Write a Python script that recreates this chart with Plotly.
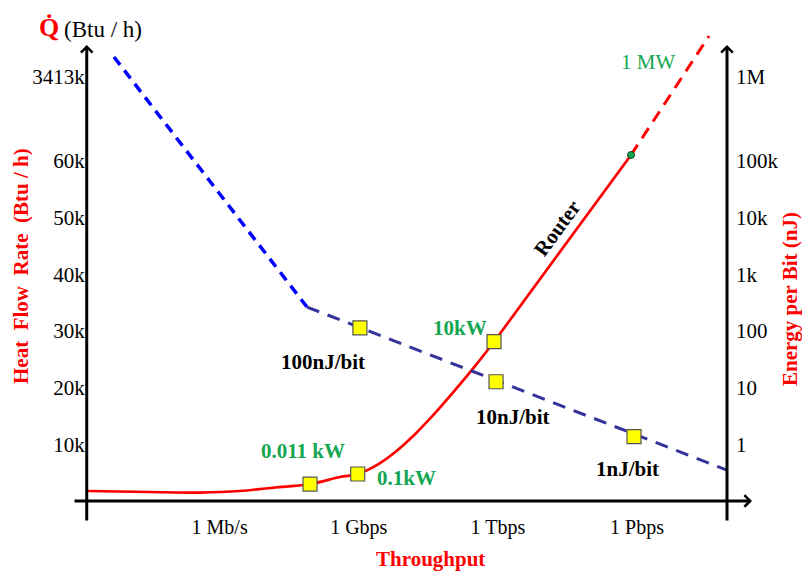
import math
import plotly.graph_objects as go

# ---------------- data ----------------
x_tick_bps = [1e6, 1e9, 1e12, 1e15]
x_tick_text = ["1 Mb/s", "1 Gbps", "1 Tbps", "1 Pbps"]

heat_tick_k = [10, 20, 30, 40, 50, 60, 74.85]          # last one sits above the axis break
heat_tick_text = ["10k", "20k", "30k", "40k", "50k", "60k", "3413k"]

energy_tick_nj = [1, 10, 100, 1e3, 1e4, 1e5, 3.05e6]   # last one sits above the axis break
energy_tick_text = ["1", "10", "100", "1k", "10k", "100k", "1M"]

# Router heat flow (k Btu/h) vs throughput (bps)
router_bps = [1.38e3, 3.16e4, 3.78e5, 2.75e6, 1.22e7, 8.9e7, 3.94e8, 9.5e8,
              2.24e9, 6.05e9, 1.63e10, 4.41e10, 1.19e11, 3.21e11, 8.26e11]
router_kbtu = [1.75, 1.57, 1.48, 1.75, 2.28, 2.98, 4.22, 4.75,
               6.13, 8.60, 11.78, 15.49, 19.55, 23.79, 28.11]
router_lin_bps = [8.26e11, 7.43e14]
router_lin_kbtu = [28.11, 61.09]
router_ext_bps = [7.43e14, 3.56e16]
router_ext_kbtu = [61.09, 82.09]

power_pts_bps = [8.9e7, 9.5e8, 8.26e11]
power_pts_kbtu = [2.98, 4.75, 28.11]
power_labels = ["0.011 kW", "0.1kW", "10kW"]

mw_bps = [7.43e14]
mw_kbtu = [61.09]

# Energy per bit (nJ) vs throughput (bps)
epb_hi_bps = [5.28e3, 7.67e7]
epb_hi_nj = [6.9e6, 265]
epb_bps = [7.67e7, 8.71e16]
epb_nj = [265, 0.35]
epb_pts_bps = [1.06e9, 9.12e11, 8.61e14]
epb_pts_nj = [114, 12.7, 1.36]
epb_labels = ["100nJ/bit", "10nJ/bit", "1nJ/bit"]

# ---------------- layout geometry ----------------
W, H = 802, 573
X_RANGE = [2.839, 17.479]          # log10(bps)
X_DOMAIN = [73 / W, 752 / W]
Y_RANGE = [-12.73, 88.45]          # k Btu/h
Y2_RANGE = [-2.273, 7.845]         # log10(nJ)
AX_LEFT = 3.135                    # log10(bps) of left axis
AX_RIGHT = 16.94                   # log10(bps) of right axis
AX_BOTTOM = -3.726
AX_TOP = 80.5
LEFT_BREAK = 70.26
RIGHT_BREAK = 69.47

SERIF = "Liberation Serif, Times New Roman, serif"
RED = "#ff0000"
GREEN = "#14a651"
NAVY = "#333399"
BLUE = "#0000ff"

fig = go.Figure()

fig.add_trace(go.Scatter(x=epb_hi_bps, y=epb_hi_nj, yaxis="y2", mode="lines",
                         line=dict(color=BLUE, width=3.5, dash="10px,7px"), showlegend=False))
fig.add_trace(go.Scatter(x=epb_bps, y=epb_nj, yaxis="y2", mode="lines",
                         line=dict(color=NAVY, width=3, dash="13px,9px"), showlegend=False))
fig.add_trace(go.Scatter(x=router_bps, y=router_kbtu, mode="lines",
                         line=dict(color=RED, width=2.7, shape="spline", smoothing=1.0),
                         showlegend=False))
fig.add_trace(go.Scatter(x=router_lin_bps, y=router_lin_kbtu, mode="lines",
                         line=dict(color=RED, width=2.7), showlegend=False))
fig.add_trace(go.Scatter(x=router_ext_bps, y=router_ext_kbtu, mode="lines",
                         line=dict(color=RED, width=3, dash="12px,8px"), showlegend=False))
fig.add_trace(go.Scatter(x=mw_bps, y=mw_kbtu, mode="markers",
                         marker=dict(color=GREEN, size=7, line=dict(color="#114422", width=1)),
                         showlegend=False))
fig.add_trace(go.Scatter(x=power_pts_bps, y=power_pts_kbtu, mode="markers",
                         marker=dict(symbol="square", color="#ffff00", size=14,
                                     line=dict(color="#555555", width=1.2)),
                         showlegend=False))
fig.add_trace(go.Scatter(x=epb_pts_bps, y=epb_pts_nj, yaxis="y2", mode="markers",
                         marker=dict(symbol="square", color="#ffff00", size=14,
                                     line=dict(color="#555555", width=1.2)),
                         showlegend=False))

shapes = []
# tick stubs crossing the axes
for v in heat_tick_k:
    shapes.append(dict(type="line", xref="x", yref="y", xsizemode="pixel", xanchor=AX_LEFT,
                       x0=-7, x1=7, y0=v, y1=v, line=dict(color="black", width=3)))
for v in energy_tick_nj:
    lv = math.log10(v)
    shapes.append(dict(type="line", xref="x", yref="y2", xsizemode="pixel", xanchor=AX_RIGHT,
                       x0=-7, x1=7, y0=lv, y1=lv, line=dict(color="black", width=3)))
for b in x_tick_bps:
    lb = math.log10(b)
    shapes.append(dict(type="line", xref="x", yref="y", ysizemode="pixel", yanchor=0,
                       x0=lb, x1=lb, y0=-7, y1=6, line=dict(color="black", width=3)))
# axis break marks
for anchor_x, anchor_y in [(AX_LEFT, LEFT_BREAK), (AX_RIGHT, RIGHT_BREAK)]:
    for off in (-3, 3):
        shapes.append(dict(type="line", xref="x", yref="y", xsizemode="pixel", ysizemode="pixel",
                           xanchor=anchor_x, yanchor=anchor_y,
                           x0=-7, x1=7, y0=off - 10, y1=off + 10,
                           line=dict(color="#333333", width=1)))

annotations = []
# axis lines with arrow heads
arrow_common = dict(text="", showarrow=True, arrowhead=4, arrowsize=0.75, arrowwidth=3,
                    arrowcolor="black", xref="x", yref="y", axref="x", ayref="y", standoff=0)
annotations.append(dict(x=AX_LEFT, y=AX_TOP, ax=AX_LEFT, ay=AX_BOTTOM, **arrow_common))
annotations.append(dict(x=AX_RIGHT, y=AX_TOP, ax=AX_RIGHT, ay=AX_BOTTOM, **arrow_common))
annotations.append(dict(x=X_RANGE[1], y=0, ax=X_RANGE[0], ay=0, **arrow_common))

# point labels
p_shift = [(-7, 33), (49, -4), (-34, 14)]
for b, v, t, (dx, dy) in zip(power_pts_bps, power_pts_kbtu, power_labels, p_shift):
    annotations.append(dict(x=math.log10(b), y=v, xref="x", yref="y", text=t, showarrow=False,
                            xshift=dx, yshift=dy, xanchor="center", yanchor="middle",
                            font=dict(family=SERIF, size=21, color=GREEN, weight="bold")))
e_shift = [(-37, -34), (17, -35), (-7, -32)]
for b, v, t, (dx, dy) in zip(epb_pts_bps, epb_pts_nj, epb_labels, e_shift):
    annotations.append(dict(x=math.log10(b), y=math.log10(v), xref="x", yref="y2", text=t,
                            showarrow=False, xshift=dx, yshift=dy, xanchor="center",
                            yanchor="middle",
                            font=dict(family=SERIF, size=21, color="black", weight="bold")))
annotations.append(dict(x=math.log10(mw_bps[0]), y=mw_kbtu[0], xref="x", yref="y", text="1 MW",
                        showarrow=False, xshift=17, yshift=93, xanchor="center", yanchor="middle",
                        font=dict(family=SERIF, size=21, color=GREEN)))
mid_x = (math.log10(router_lin_bps[0]) + math.log10(router_lin_bps[1])) / 2
mid_y = (router_lin_kbtu[0] + router_lin_kbtu[1]) / 2
annotations.append(dict(x=mid_x, y=mid_y, xref="x", yref="y", text="Router", showarrow=False,
                        textangle=-53.6, xshift=-5, yshift=20, xanchor="center", yanchor="middle",
                        font=dict(family=SERIF, size=21, color="black", weight="bold")))

# titles (paper coordinates, explicit centre anchors)
def title(x_px, y_px, text, size, color, bold=True, angle=0):
    return dict(x=x_px / W, y=1 - y_px / H, xref="paper", yref="paper", text=text,
                showarrow=False, xanchor="center", yanchor="middle", textangle=angle,
                font=dict(family=SERIF, size=size, color=color,
                          weight="bold" if bold else "normal"))

annotations.append(title(430, 559, "Throughput", 21, RED))
annotations.append(title(21, 266, "Heat\u00a0\u00a0Flow\u00a0\u00a0Rate\u00a0\u00a0(Btu\u00a0/\u00a0h)",
                         21, RED, angle=-90))
annotations.append(title(790, 299, "Energy per Bit (nJ)", 21, RED, angle=-90))
annotations.append(title(49, 28, "Q\u0307", 26, RED))
annotations.append(title(103, 30, "(Btu / h)", 23, "black", bold=False))

fig.update_layout(
    width=W, height=H,
    margin=dict(l=0, r=0, t=0, b=0),
    paper_bgcolor="white", plot_bgcolor="white",
    showlegend=False,
    xaxis=dict(type="log", range=X_RANGE, domain=X_DOMAIN, anchor="free",
               position=1 - 500.9 / H, tickvals=x_tick_bps, ticktext=x_tick_text,
               ticks="", showline=False, showgrid=False, zeroline=False,
               ticklabelstandoff=12, tickfont=dict(family=SERIF, size=20, color="black")),
    yaxis=dict(range=Y_RANGE, domain=[0, 1], anchor="free", position=86.7 / W,
               tickvals=heat_tick_k, ticktext=heat_tick_text, ticks="", showline=False,
               showgrid=False, zeroline=False, ticklabelstandoff=2,
               tickfont=dict(family=SERIF, size=21, color="black")),
    yaxis2=dict(type="log", range=Y2_RANGE, overlaying="y", side="right", anchor="free",
                position=727 / W, tickvals=energy_tick_nj, ticktext=energy_tick_text,
                ticks="", showline=False, showgrid=False, zeroline=False,
                ticklabelstandoff=8, tickfont=dict(family=SERIF, size=21, color="black")),
    shapes=shapes,
    annotations=annotations,
)

fig.write_html("out.html", config={"displayModeBar": False},
               post_script="document.body.style.margin='0px';")
